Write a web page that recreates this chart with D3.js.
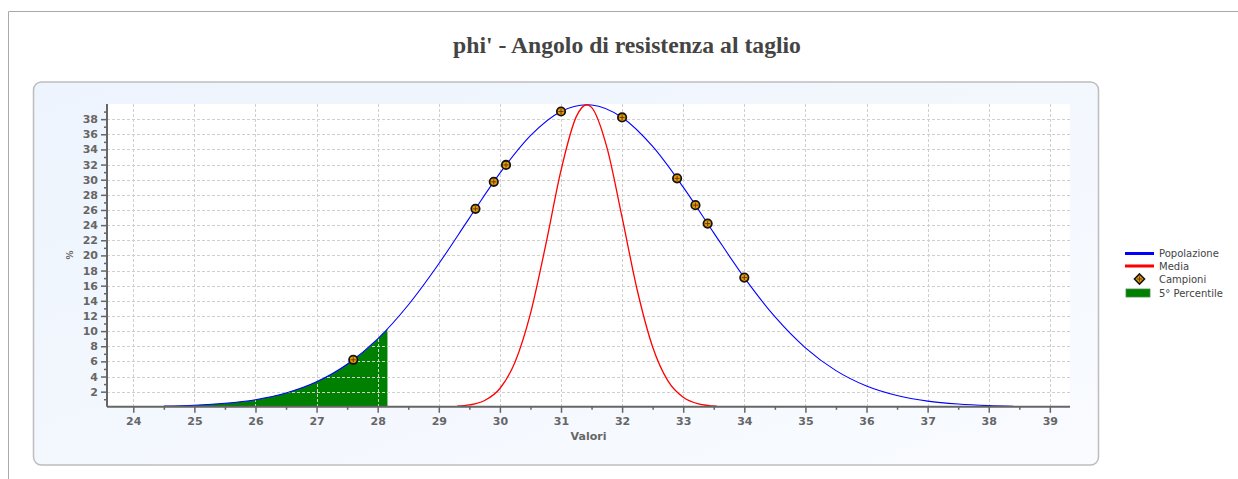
<!DOCTYPE html>
<html>
<head>
<meta charset="utf-8">
<script src="https://cdn.jsdelivr.net/npm/d3@7"></script>
<style>
  html, body { margin: 0; padding: 0; background: #fff; }
  svg { display: block; }
</style>
</head>
<body>
<svg id="chart" width="1238" height="479"></svg>
<script>
// ---- data ----
const chartTitle = "phi' - Angolo di resistenza al taglio";
const xTickValues = [24, 25, 26, 27, 28, 29, 30, 31, 32, 33, 34, 35, 36, 37, 38, 39];
const yTickValues = [2, 4, 6, 8, 10, 12, 14, 16, 18, 20, 22, 24, 26, 28, 30, 32, 34, 36, 38];

// Popolazione (blue curve)
const popX = [24.5, 25, 25.5, 26, 26.5, 27, 27.5, 28, 28.5, 29, 29.5, 30, 30.5, 31, 31.42, 31.5, 32, 32.5, 33, 33.5, 34, 34.5, 35, 35.5, 36, 36.5, 37, 37.5, 38, 38.4];
const popY = [0.09, 0.21, 0.46, 0.94, 1.82, 3.30, 5.62, 8.97, 13.45, 18.90, 24.93, 30.86, 35.82, 39.01, 39.90, 39.87, 38.22, 34.39, 29.02, 22.98, 17.07, 11.90, 7.79, 4.78, 2.75, 1.49, 0.75, 0.36, 0.16, 0.08];

// Media (red curve)
const mediaX = [29.3, 29.5, 29.75, 30, 30.25, 30.5, 30.75, 31, 31.25, 31.42, 31.5, 31.75, 32, 32.25, 32.5, 32.75, 33, 33.25, 33.55];
const mediaY = [0.08, 0.24, 0.83, 2.42, 5.96, 12.31, 21.39, 31.23, 38.33, 39.90, 39.55, 34.30, 25.01, 15.33, 7.90, 3.42, 1.25, 0.38, 0.07];

// Campioni (samples)
const sampleX = [27.6, 29.6, 29.9, 30.1, 31.0, 32.0, 32.9, 33.2, 33.4, 34.0];
const sampleY = [6.21, 26.15, 29.72, 31.95, 39.01, 38.22, 30.18, 26.64, 24.20, 17.07];

// 5° Percentile
const percentileX = 28.16;
const percentileY = 10.29;

const legendLabels = ["Popolazione", "Media", "Campioni", "5° Percentile"];

// ---- drawing ----
const svg = d3.select("#chart");
const defs = svg.append("defs");
const grad = defs.append("linearGradient").attr("id", "panelGrad")
  .attr("x1", "0%").attr("y1", "0%").attr("x2", "100%").attr("y2", "100%");
grad.append("stop").attr("offset", "0%").attr("stop-color", "#edf4fd");
grad.append("stop").attr("offset", "100%").attr("stop-color", "#f9fbff");

// page border (top + left)
svg.append("line").attr("x1", 8.5).attr("y1", 11.5).attr("x2", 1238).attr("y2", 11.5)
  .attr("stroke", "#aaa").attr("stroke-width", 1);
svg.append("line").attr("x1", 8.5).attr("y1", 11.5).attr("x2", 8.5).attr("y2", 479)
  .attr("stroke", "#aaa").attr("stroke-width", 1);

// title
const title = svg.append("text").attr("x", 627).attr("y", 53).attr("text-anchor", "middle")
  .attr("font-family", "Liberation Serif, Times New Roman, Times, serif")
  .attr("font-weight", "bold").attr("font-size", 20).attr("fill", "#444")
  .text(chartTitle);
// keep the title's measured width in the reference (~348px)
const tw = title.node().getComputedTextLength();
if (tw > 0 && Math.abs(tw - 348) > 6) {
  title.attr("font-size", 20 * 348 / tw);
}

// panel
svg.append("rect").attr("x", 33.5).attr("y", 82).attr("width", 1065).attr("height", 383)
  .attr("rx", 8).attr("ry", 8).attr("fill", "url(#panelGrad)")
  .attr("stroke", "#bdbdbd").attr("stroke-width", 1.5);

const plot = { left: 107, right: 1070, top: 104, bottom: 406.8 };
const x = d3.scaleLinear().domain([23.57, 39.33]).range([plot.left, plot.right]);
const y = d3.scaleLinear().domain([0, 40]).range([plot.bottom, plot.top]);

svg.append("rect").attr("x", plot.left).attr("y", plot.top)
  .attr("width", plot.right - plot.left).attr("height", plot.bottom - plot.top)
  .attr("fill", "#fff");

const popData = popX.map((v, i) => [v, popY[i]]);
const mediaData = mediaX.map((v, i) => [v, mediaY[i]]);
const greenData = popData.filter(d => d[0] < percentileX).concat([[percentileX, percentileY]]);

// green area
svg.append("path").datum(greenData)
  .attr("fill", "#008000")
  .attr("d", d3.area().x(d => x(d[0])).y0(y(0)).y1(d => y(d[1])).curve(d3.curveMonotoneX));

// grid
const grid = svg.append("g").attr("stroke", "#cfcfcf").attr("stroke-width", 1)
  .attr("stroke-dasharray", "3,2");
grid.selectAll("line.v").data(xTickValues).join("line")
  .attr("x1", d => Math.round(x(d)) + 0.5).attr("x2", d => Math.round(x(d)) + 0.5)
  .attr("y1", plot.top).attr("y2", plot.bottom);
grid.selectAll("line.h").data(yTickValues).join("line")
  .attr("y1", d => Math.round(y(d)) + 0.5).attr("y2", d => Math.round(y(d)) + 0.5)
  .attr("x1", plot.left).attr("x2", plot.right);

// curves
const line = d3.line().x(d => x(d[0])).y(d => y(d[1])).curve(d3.curveMonotoneX);
svg.append("path").datum(popData).attr("fill", "none").attr("stroke", "#0000ff")
  .attr("stroke-width", 1.1).attr("d", line);
svg.append("path").datum(mediaData).attr("fill", "none").attr("stroke", "#ff0000")
  .attr("stroke-width", 1.3).attr("d", line);

// markers
const marker = (g) => {
  g.append("circle").attr("r", 4.2).attr("fill", "#e89a08").attr("stroke", "#141414").attr("stroke-width", 1.8);
  g.append("path").attr("d", "M-2.5,0H2.5M0,-2.5V2.5").attr("stroke", "#6a3e00").attr("stroke-width", 1);
};
sampleX.forEach((v, i) => {
  const g = svg.append("g").attr("transform", `translate(${x(v)},${y(sampleY[i])})`);
  marker(g);
});

// axes
const axisColor = "#666";
const xAxis = svg.append("g").attr("transform", `translate(0,${plot.bottom})`)
  .call(d3.axisBottom(x).tickValues(xTickValues).tickSize(6).tickPadding(4).tickFormat(d3.format("d")));
const xMinor = svg.append("g").attr("transform", `translate(0,${plot.bottom})`)
  .call(d3.axisBottom(x).tickValues(xTickValues.map(d => d + 0.5).filter(d => d < 39.3)).tickSize(3).tickFormat(""));
const yAxis = svg.append("g").attr("transform", `translate(${plot.left},0)`)
  .call(d3.axisLeft(y).tickValues(yTickValues).tickSize(6).tickPadding(3).tickFormat(d3.format("d")));
const yMinor = svg.append("g").attr("transform", `translate(${plot.left},0)`)
  .call(d3.axisLeft(y).tickValues(yTickValues.map(d => d - 1).concat([39])).tickSize(3).tickFormat(""));
[xAxis, xMinor, yAxis, yMinor].forEach(a => {
  a.select(".domain").attr("stroke", axisColor).attr("stroke-width", 2);
  a.selectAll(".tick line").attr("stroke", axisColor).attr("stroke-width", 1.5);
  a.selectAll(".tick text").attr("fill", "#666").attr("font-family", "'DejaVu Sans', Verdana, sans-serif")
    .attr("font-weight", "bold").attr("font-size", 11);
});
[xMinor, yMinor].forEach(a => a.select(".domain").remove());
xAxis.select(".domain").attr("d", `M${plot.left},0H${plot.right}`);
yAxis.select(".domain").attr("d", `M0,${plot.top}V${plot.bottom}`);

// axis titles
svg.append("text").attr("x", 588.5).attr("y", 440).attr("text-anchor", "middle")
  .attr("font-family", "'DejaVu Sans', Verdana, sans-serif").attr("font-weight", "bold")
  .attr("font-size", 11).attr("fill", "#666").text("Valori");
svg.append("text").attr("transform", "translate(73,255) rotate(-90)").attr("text-anchor", "middle")
  .attr("font-family", "'DejaVu Sans', Verdana, sans-serif").attr("font-weight", "bold")
  .attr("font-size", 9).attr("fill", "#666").text("%");

// legend
const lg = svg.append("g").attr("font-family", "'DejaVu Sans', Verdana, sans-serif")
  .attr("font-size", 10).attr("fill", "#444");
const rowY = [253.5, 266, 279, 293];
lg.append("line").attr("x1", 1125).attr("x2", 1154).attr("y1", rowY[0]).attr("y2", rowY[0])
  .attr("stroke", "#0000ff").attr("stroke-width", 3);
lg.append("line").attr("x1", 1125).attr("x2", 1154).attr("y1", rowY[1]).attr("y2", rowY[1])
  .attr("stroke", "#ff0000").attr("stroke-width", 3);
const lm = lg.append("g").attr("transform", `translate(1139.5,${rowY[2]})`);
lm.append("path").attr("d", "M0,-5L5,0L0,5L-5,0Z").attr("fill", "#e89a08").attr("stroke", "#141414").attr("stroke-width", 1.6);
lm.append("path").attr("d", "M-2.5,0H2.5M0,-2.5V2.5").attr("stroke", "#6a3e00").attr("stroke-width", 1);
lg.append("rect").attr("x", 1126).attr("y", rowY[3] - 4).attr("width", 24).attr("height", 8)
  .attr("fill", "#008000").attr("stroke", "#4a8a4a").attr("stroke-width", 0.8);
legendLabels.forEach((t, i) => {
  lg.append("text").attr("x", 1159).attr("y", rowY[i] + 3.5).text(t);
});
</script>
</body>
</html>
